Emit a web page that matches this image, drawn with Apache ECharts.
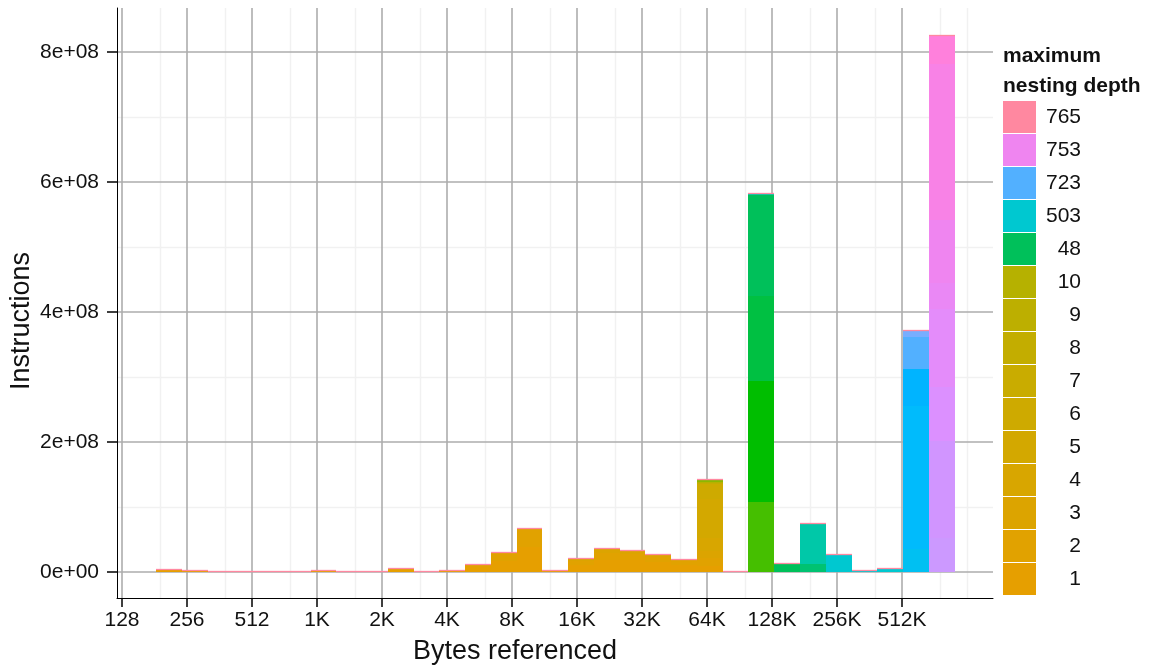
<!DOCTYPE html>
<html>
<head>
<meta charset="utf-8">
<script src="https://cdn.jsdelivr.net/npm/echarts@6/dist/echarts.min.js"></script>
<style>
  html, body { margin: 0; padding: 0; background: #ffffff; }
  #chart { width: 1158px; height: 671px; }
</style>
</head>
<body>
<div id="chart"></div>
<script>
// Histogram of instructions by bytes referenced (log2 bins), stacked by maximum nesting depth.

// Histogram bins on the log2(bytes) scale
const BIN_FIRST_EDGE = 7.523;   // log2(bytes) of the lowest bin edge
const BIN_WIDTH = 0.3963;       // width of each bin, log2 units
const BIN_COUNT = 31;

// Axis ticks
const xTickLog2 = [7, 8, 9, 10, 11, 12, 13, 14, 15, 16, 17, 18, 19];
const xTickLabels = ['128', '256', '512', '1K', '2K', '4K', '8K', '16K', '32K', '64K', '128K', '256K', '512K'];
const xMinorBytes = [192, 384, 768, 1536, 3072, 6144, 12288, 24576, 49152, 98304, 196608, 393216, 786432, 1048576];
const yTickValues = [0, 2e8, 4e8, 6e8, 8e8];
const yTickLabels = ['0e+00', '2e+08', '4e+08', '6e+08', '8e+08'];
const yMinorValues = [1e8, 3e8, 5e8, 7e8];

// Instructions per bin (millions), one array per maximum nesting depth, bins 0..30
const depth1  = [2.5, 1, 0, 0, 0, 0, 1, 0, 0, 3.5,  0, 1, 7, 17, 39, 1.5, 11, 19, 18, 15,  11, 10, 0, 0, 0, 0, 0, 0, 0, 0,  0];
const depth2  = [1, 0.5, 0, 0, 0, 0, 0.5, 0, 0, 1.5,  0, 0.5, 4.5, 11.5, 26.5, 0.5, 6, 11, 10, 8,  6, 12, 0, 0, 0, 0, 0, 0, 0, 0,  0];
const depth3  = [0, 0, 0, 0, 0, 0, 0, 0, 0, 0,  0, 0, 0, 0, 0, 0, 2.5, 5, 4.5, 3.5,  2, 10, 0, 0, 0, 0, 0, 0, 0, 0,  0];
const depth4  = [0, 0, 0, 0, 0, 0, 0, 0, 0, 0,  0, 0, 0, 0, 0, 0, 0, 0, 0, 0,  0, 20, 0, 0, 0, 0, 0, 0, 0, 0,  0];
const depth5  = [0, 0, 0, 0, 0, 0, 0, 0, 0, 0,  0, 0, 0, 0, 0, 0, 0, 0, 0, 0,  0, 60, 0, 0, 0, 0, 0, 0, 0, 0,  0];
const depth6  = [0, 0, 0, 0, 0, 0, 0, 0, 0, 0,  0, 0, 0, 0, 0, 0, 0, 0, 0, 0,  0, 23, 0, 0, 0, 0, 0, 0, 0, 0,  0];
const depth7  = [0, 0, 0, 0, 0, 0, 0, 0, 0, 0,  0, 0, 0, 0, 0, 0, 0, 0, 0, 0,  0, 1, 0, 0, 0, 0, 0, 0, 0, 0,  0];
const depth8  = [0, 0, 0, 0, 0, 0, 0, 0, 0, 0,  0, 0, 0, 0, 0, 0, 0, 0, 0, 0,  0, 1, 0, 0, 0, 0, 0, 0, 0, 0,  0];
const depth9  = [0, 0, 0, 0, 0, 0, 0, 0, 0, 0,  0, 0, 0, 0, 0, 0, 0, 0, 0, 0,  0, 0.5, 0, 0, 0, 0, 0, 0, 0, 0,  0];
const depth10 = [0, 0, 0, 0, 0, 0, 0, 0, 0, 0,  0, 0, 0, 0, 0, 0, 0, 0, 0, 0,  0, 0.5, 0, 0, 0, 0, 0, 0, 0, 0,  0];
// depths between 10 and 48
const depth11to47a = [0, 0, 0, 0, 0, 0, 0, 0, 0, 0,  0, 0, 0, 0, 0, 0, 0, 0, 0, 0,  0, 3, 0, 0, 0, 0, 0, 0, 0, 0,  0];
const depth11to47b = [0, 0, 0, 0, 0, 0, 0, 0, 0, 0,  0, 0, 0, 0, 0, 0, 0, 0, 0, 0,  0, 0, 0, 108, 0, 0, 0, 0, 0, 0,  0];
const depth11to47c = [0, 0, 0, 0, 0, 0, 0, 0, 0, 0,  0, 0, 0, 0, 0, 0, 0, 0, 0, 0,  0, 0, 0, 186, 0, 0, 0, 0, 0, 0,  0];
const depth11to47d = [0, 0, 0, 0, 0, 0, 0, 0, 0, 0,  0, 0, 0, 0, 0, 0, 0, 0, 0, 0,  0, 0, 0, 131, 0, 0, 0, 0, 0, 0,  0];
const depth48 = [0, 0, 0, 0, 0, 0, 0, 0, 0, 0,  0, 0, 0, 0, 0, 0, 0, 0, 0, 0,  0, 0, 0, 155, 12, 0, 0, 0, 0, 0,  0];
// depths between 48 and 503
const depth49to502a = [0, 0, 0, 0, 0, 0, 0, 0, 0, 0,  0, 0, 0, 0, 0, 0, 0, 0, 0, 0,  0, 0, 0, 0, 0, 12, 0, 0, 0, 0,  0];
const depth49to502b = [0, 0, 0, 0, 0, 0, 0, 0, 0, 0,  0, 0, 0, 0, 0, 0, 0, 0, 0, 0,  0, 0, 0, 2, 0, 62, 0, 0, 0, 0,  0];
const depth503 = [0, 0, 0, 0, 0, 0, 0, 0, 0, 0,  0, 0, 0, 0, 0, 0, 0, 0, 0, 0,  0, 0, 0, 0, 0, 0, 26.5, 2, 4, 0,  0];
// depths between 503 and 723
const depth504to722a = [0, 0, 0, 0, 0, 0, 0, 0, 0, 0,  0, 0, 0, 0, 0, 0, 0, 0, 0, 0,  0, 0, 0, 0, 0, 0, 0, 0, 0, 35,  0];
const depth504to722b = [0, 0, 0, 0, 0, 0, 0, 0, 0, 0,  0, 0, 0, 0, 0, 0, 0, 0, 0, 0,  0, 0, 0, 0, 0, 0, 0, 0, 0, 220,  0];
const depth504to722c = [0, 0, 0, 0, 0, 0, 0, 0, 0, 0,  0, 0, 0, 0, 0, 0, 0, 0, 0, 0,  0, 0, 0, 0, 0, 0, 0, 0, 0, 58,  0];
const depth723 = [0, 0, 0, 0, 0, 0, 0, 0, 0, 0,  0, 0, 0, 0, 0, 0, 0, 0, 0, 0,  0, 0, 0, 0, 0, 0, 0, 0, 0, 48,  0];
// depths between 723 and 753
const depth724to752a = [0, 0, 0, 0, 0, 0, 0, 0, 0, 0,  0, 0, 0, 0, 0, 0, 0, 0, 0, 0,  0, 0, 0, 0, 0, 0, 0, 0, 0, 10,  0];
const depth724to752b = [0, 0, 0, 0, 0, 0, 0, 0, 0, 0,  0, 0, 0, 0, 0, 0, 0, 0, 0, 0,  0, 0, 0, 0, 0, 0, 0, 0, 0, 0,  52];
const depth724to752c = [0, 0, 0, 0, 0, 0, 0, 0, 0, 0,  0, 0, 0, 0, 0, 0, 0, 0, 0, 0,  0, 0, 0, 0, 0, 0, 0, 0, 0, 0,  150];
const depth724to752d = [0, 0, 0, 0, 0, 0, 0, 0, 0, 0,  0, 0, 0, 0, 0, 0, 0, 0, 0, 0,  0, 0, 0, 0, 0, 0, 0, 0, 0, 0,  82];
const depth724to752e = [0, 0, 0, 0, 0, 0, 0, 0, 0, 0,  0, 0, 0, 0, 0, 0, 0, 0, 0, 0,  0, 0, 0, 0, 0, 0, 0, 0, 0, 0,  120];
const depth724to752f = [0, 0, 0, 0, 0, 0, 0, 0, 0, 0,  0, 0, 0, 0, 0, 0, 0, 0, 0, 0,  0, 0, 0, 0, 0, 0, 0, 0, 0, 0,  41];
const depth753 = [0, 0, 0, 0, 0, 0, 0, 0, 0, 0,  0, 0, 0, 0, 0, 0, 0, 0, 0, 0,  0, 0, 0, 0, 0, 0, 0, 0, 0, 0,  96];
// depths between 753 and 765
const depth754to764a = [0, 0, 0, 0, 0, 0, 0, 0, 0, 0,  0, 0, 0, 0, 0, 0, 0, 0, 0, 0,  0, 0, 0, 0, 0, 0, 0, 0, 0, 0,  240];
const depth754to764b = [0, 0, 0, 0, 0, 0, 0, 0, 0, 0,  0, 0, 0, 0, 0, 0, 0, 0, 0, 0,  0, 0, 0, 0, 0, 0, 0, 0, 0, 0,  43];
const depth765 = [0, 0, 0, 0, 0, 0, 0, 0, 0, 0,  0, 0, 0, 0, 0, 0, 0, 0, 0, 0,  0, 0, 0, 0, 0, 0, 0, 0, 0, 0,  1];

// Stack order, bottom to top, with fill colours
const levels = [
  { name: '1', values: depth1, color: '#E69F00' },
  { name: '2', values: depth2, color: '#E1A200' },
  { name: '3', values: depth3, color: '#DCA400' },
  { name: '4', values: depth4, color: '#D8A600' },
  { name: '5', values: depth5, color: '#D3A800' },
  { name: '6', values: depth6, color: '#CEAA00' },
  { name: '7', values: depth7, color: '#C9AC00' },
  { name: '8', values: depth8, color: '#C3AD00' },
  { name: '9', values: depth9, color: '#BDAF00' },
  { name: '10', values: depth10, color: '#B6B100' },
  { name: '11-47 a', values: depth11to47a, color: '#8CB800' },
  { name: '11-47 b', values: depth11to47b, color: '#45BF00' },
  { name: '11-47 c', values: depth11to47c, color: '#00BE00' },
  { name: '11-47 d', values: depth11to47d, color: '#00C042' },
  { name: '48', values: depth48, color: '#00C05A' },
  { name: '49-502 a', values: depth49to502a, color: '#00C272' },
  { name: '49-502 b', values: depth49to502b, color: '#00C8A8' },
  { name: '503', values: depth503, color: '#00C8D0' },
  { name: '504-722 a', values: depth504to722a, color: '#00C0F2' },
  { name: '504-722 b', values: depth504to722b, color: '#00BBFC' },
  { name: '504-722 c', values: depth504to722c, color: '#00B4FF' },
  { name: '723', values: depth723, color: '#52B0FF' },
  { name: '724-752 a', values: depth724to752a, color: '#78AEFF' },
  { name: '724-752 b', values: depth724to752b, color: '#CC99FF' },
  { name: '724-752 c', values: depth724to752c, color: '#D195FF' },
  { name: '724-752 d', values: depth724to752d, color: '#DC90FF' },
  { name: '724-752 e', values: depth724to752e, color: '#E48CFA' },
  { name: '724-752 f', values: depth724to752f, color: '#EA88F5' },
  { name: '753', values: depth753, color: '#EF85F0' },
  { name: '754-764 a', values: depth754to764a, color: '#F882E6' },
  { name: '754-764 b', values: depth754to764b, color: '#FF80DC' },
  { name: '765', values: depth765, color: '#FF88A0' }
];
const legendOrder = ['765', '753', '723', '503', '48', '10', '9', '8', '7', '6', '5', '4', '3', '2', '1'];

const FONT = '"Liberation Sans", Arial, Helvetica, sans-serif';
const TEXT = '#111111';
const MAJOR_GRID = '#ADADAD';
const MINOR_GRID = '#F1F1F1';
const MILLION = 1e6;

// Plot window: ggplot-style 5% expansion around the data
const X_MIN = 6.9231, X_MAX = 20.4;
const Y_MIN = -4.0e7, Y_MAX = 8.677e8;

// Build stacked segments [x0, x1, yBase, yTop] per level
const running = new Array(BIN_COUNT).fill(0);
const stacked = levels.map((lv, li) => {
  const isTop = li === levels.length - 1;
  const rows = [];
  for (let k = 0; k < BIN_COUNT; k++) {
    const v = lv.values[k] * MILLION;
    const x0 = BIN_FIRST_EDGE + k * BIN_WIDTH;
    const x1 = x0 + BIN_WIDTH;
    if (v > 0 || isTop) rows.push([x0, x1, running[k], running[k] + v]);
    running[k] += v;
  }
  return rows;
});

function makeRender(color, outlineTop) {
  return function (params, api) {
    const a = api.coord([api.value(0), api.value(3)]);
    const b = api.coord([api.value(1), api.value(2)]);
    const x0 = Math.round(a[0]), x1 = Math.round(b[0]);
    const yT = Math.round(a[1]), yB = Math.round(b[1]);
    const children = [];
    if (yB > yT) {
      children.push({ type: 'rect', shape: { x: x0, y: yT, width: x1 - x0, height: yB - yT },
        style: { fill: color } });
    }
    if (outlineTop) {
      children.push({ type: 'line', shape: { x1: x0, y1: yT - 0.5, x2: x1, y2: yT - 0.5 },
        style: { stroke: color, lineWidth: 1.3 } });
    }
    return { type: 'group', children: children };
  };
}

const series = levels.map((lv, li) => ({
  type: 'custom',
  name: lv.name,
  xAxisIndex: 0,
  yAxisIndex: 0,
  itemStyle: { color: lv.color },
  data: stacked[li],
  encode: { x: [0, 1], y: [2, 3] },
  renderItem: makeRender(lv.color, li === levels.length - 1),
  silent: true,
  animation: false,
  z: 3
}));

function fmtX(v) {
  const i = xTickLog2.indexOf(Math.round(v));
  return i >= 0 ? xTickLabels[i] : '';
}
function fmtY(v) {
  const i = yTickValues.indexOf(Math.round(v));
  return i >= 0 ? yTickLabels[i] : '';
}

const chart = echarts.init(document.getElementById('chart'), null, { renderer: 'canvas' });
chart.setOption({
  animation: false,
  backgroundColor: '#ffffff',
  grid: { left: 117, right: 165, top: 8, bottom: 73, containLabel: false, outerBoundsMode: 'none' },
  title: {
    text: 'maximum\nnesting depth',
    left: 1003, top: 41, padding: 0,
    textStyle: { fontFamily: FONT, fontSize: 21, fontWeight: 'bold', lineHeight: 30, color: TEXT }
  },
  legend: {
    data: legendOrder,
    orient: 'vertical',
    left: 1003, top: 101, padding: 0,
    itemWidth: 33, itemHeight: 32, itemGap: 1,
    icon: 'rect',
    selectedMode: false,
    formatter: n => '{v|' + n + '}',
    textStyle: {
      rich: { v: { width: 40, align: 'right', fontFamily: FONT, fontSize: 21, color: TEXT } }
    }
  },
  xAxis: [
    {
      type: 'value', min: X_MIN, max: X_MAX, position: 'bottom', z: 1,
      axisLine: { show: true, onZero: false, lineStyle: { color: '#000', width: 1 } },
      axisTick: { show: true, length: 9, customValues: xTickLog2, lineStyle: { color: '#000', width: 1.5 } },
      axisLabel: { customValues: xTickLog2, formatter: fmtX, margin: 12,
        fontFamily: FONT, fontSize: 21, color: TEXT },
      splitLine: { show: true, lineStyle: { color: MAJOR_GRID, width: 1.6 } },
      name: 'Bytes referenced', nameLocation: 'middle', nameGap: 40, nameMoveOverlap: false,
      nameTextStyle: { fontFamily: FONT, fontSize: 27, color: TEXT, padding: [0, 80, 0, 0] }
    },
    {
      type: 'value', min: X_MIN, max: X_MAX, position: 'top', z: 0,
      axisLine: { show: false },
      axisTick: { show: false, customValues: xMinorBytes.map(b => Math.log2(b)) },
      axisLabel: { show: false },
      splitLine: { show: true, lineStyle: { color: MINOR_GRID, width: 1.4 } }
    }
  ],
  yAxis: [
    {
      type: 'value', min: Y_MIN, max: Y_MAX, position: 'left', z: 1,
      axisLine: { show: true, onZero: false, lineStyle: { color: '#000', width: 1 } },
      axisTick: { show: true, length: 10, customValues: yTickValues, lineStyle: { color: '#000', width: 1.5 } },
      axisLabel: { customValues: yTickValues, formatter: fmtY, margin: 18,
        fontFamily: FONT, fontSize: 21, color: TEXT },
      splitLine: { show: true, lineStyle: { color: MAJOR_GRID, width: 1.6 } },
      name: 'Instructions', nameLocation: 'middle', nameGap: 82, nameMoveOverlap: false,
      nameTextStyle: { fontFamily: FONT, fontSize: 27, color: TEXT, padding: [0, 36, 0, 0] }
    },
    {
      type: 'value', min: Y_MIN, max: Y_MAX, position: 'right', z: 0,
      axisLine: { show: false },
      axisTick: { show: false, customValues: yMinorValues },
      axisLabel: { show: false },
      splitLine: { show: true, lineStyle: { color: MINOR_GRID, width: 1.4 } }
    }
  ],
  series: series
});
</script>
</body>
</html>
